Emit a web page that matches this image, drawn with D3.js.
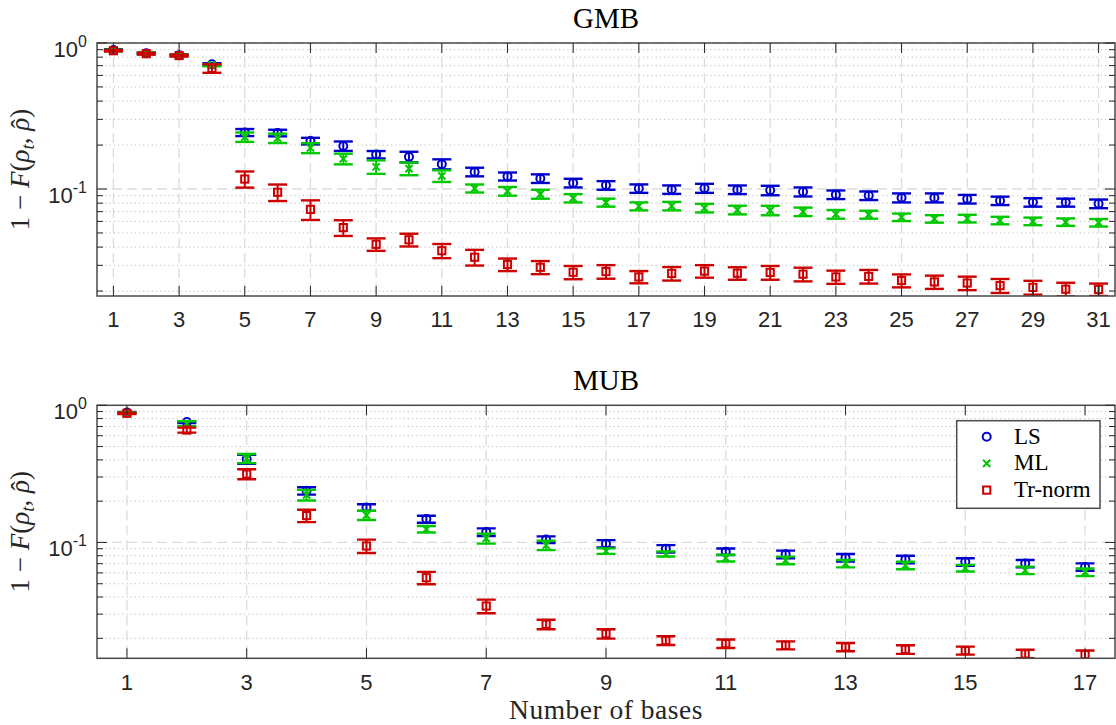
<!DOCTYPE html>
<html>
<head>
<meta charset="utf-8">
<script src="https://cdn.jsdelivr.net/npm/d3@7"></script>
<style>
  html, body { margin: 0; padding: 0; background: #ffffff; }
  svg { display: block; }
</style>
</head>
<body>
<svg id="chart" width="1116" height="725"></svg>
<script>
// ---------------- GMB: infidelity vs number of bases ----------------
const gmbBases = [1, 2, 3, 4, 5, 6, 7, 8, 9, 10, 11, 12, 13, 14, 15, 16,
                  17, 18, 19, 20, 21, 22, 23, 24, 25, 26, 27, 28, 29, 30, 31];
const gmbLS = [0.895, 0.850, 0.825, 0.715, 0.244, 0.242, 0.213, 0.197, 0.172, 0.166, 0.148,
               0.131, 0.122, 0.118, 0.110, 0.106, 0.1008, 0.0992, 0.1013, 0.0990, 0.0979,
               0.0957, 0.0915, 0.0901, 0.0871, 0.0871, 0.0853, 0.0831, 0.0811, 0.0808, 0.0793];
const gmbLSErr = [0.012, 0.010, 0.010, 0.012, 0.0135, 0.0126, 0.0111, 0.0146, 0.0100, 0.0139, 0.0117,
                  0.0089, 0.0077, 0.0080, 0.0075, 0.0072, 0.0067, 0.0066, 0.0072, 0.0067, 0.0073,
                  0.0068, 0.0062, 0.0061, 0.0062, 0.0062, 0.0058, 0.0055, 0.0054, 0.0051, 0.0054];
const gmbML = [0.890, 0.850, 0.825, 0.705, 0.227, 0.223, 0.191, 0.161, 0.142, 0.138, 0.123,
               0.101, 0.0966, 0.0923, 0.0866, 0.0808, 0.0762, 0.0765, 0.0741, 0.0719, 0.0714,
               0.0699, 0.0672, 0.0668, 0.0641, 0.0625, 0.0628, 0.0609, 0.0601, 0.0594, 0.0588];
const gmbMLErr = [0.010, 0.010, 0.010, 0.012, 0.0168, 0.0165, 0.0150, 0.0135, 0.0150, 0.0137, 0.0113,
                  0.0064, 0.0066, 0.0065, 0.0057, 0.0051, 0.0048, 0.0051, 0.0050, 0.0049, 0.0053,
                  0.0047, 0.0046, 0.0042, 0.0038, 0.0037, 0.0038, 0.0036, 0.0036, 0.0035, 0.0035];
const gmbTR = [0.885, 0.845, 0.820, 0.670, 0.117, 0.095, 0.0725, 0.0544, 0.0418, 0.0449, 0.0378,
               0.0341, 0.0304, 0.0291, 0.0269, 0.0272, 0.0250, 0.0264, 0.0274, 0.0265, 0.0268,
               0.0261, 0.0250, 0.0252, 0.0236, 0.0231, 0.0227, 0.0218, 0.0212, 0.0206, 0.0205];
const gmbTRErr = [0.010, 0.012, 0.012, 0.045, 0.0148, 0.0123, 0.0111, 0.0067, 0.0041, 0.0045, 0.0042,
                  0.0042, 0.0030, 0.0030, 0.0028, 0.0029, 0.0024, 0.0028, 0.0027, 0.0026, 0.0029,
                  0.0028, 0.0026, 0.0027, 0.0024, 0.0024, 0.0024, 0.0024, 0.0023, 0.0022, 0.0020];
const gmbTicks = [1, 3, 5, 7, 9, 11, 13, 15, 17, 19, 21, 23, 25, 27, 29, 31];

// ---------------- MUB: infidelity vs number of bases ----------------
const mubBases = [1, 2, 3, 4, 5, 6, 7, 8, 9, 10, 11, 12, 13, 14, 15, 16, 17];
const mubLS = [0.885, 0.755, 0.405, 0.238, 0.180, 0.148, 0.119, 0.105, 0.098, 0.0900, 0.0857,
               0.0820, 0.0774, 0.0752, 0.0722, 0.0701, 0.0663];
const mubLSErr = [0.010, 0.012, 0.030, 0.0147, 0.0100, 0.0087, 0.0076, 0.0058, 0.0060, 0.0056, 0.0047,
                  0.0052, 0.0049, 0.0048, 0.0045, 0.0043, 0.0041];
const mubML = [0.880, 0.735, 0.410, 0.222, 0.158, 0.125, 0.107, 0.0954, 0.0866, 0.0824, 0.0770,
               0.0741, 0.0701, 0.0681, 0.0650, 0.0627, 0.0607];
const mubMLErr = [0.010, 0.031, 0.031, 0.0197, 0.0124, 0.0069, 0.0090, 0.0075, 0.0040, 0.0035, 0.0043,
                  0.0047, 0.0043, 0.0043, 0.0036, 0.0039, 0.0039];
const mubTR = [0.875, 0.660, 0.315, 0.157, 0.0943, 0.0553, 0.0344, 0.0253, 0.0216, 0.0193, 0.0183,
               0.0178, 0.0173, 0.0166, 0.0163, 0.0154, 0.0152];
const mubTRErr = [0.010, 0.028, 0.0264, 0.0163, 0.0106, 0.0057, 0.0039, 0.0020, 0.0017, 0.0014, 0.0013,
                  0.0012, 0.0012, 0.0012, 0.0011, 0.0011, 0.0011];
const mubTicks = [1, 3, 5, 7, 9, 11, 13, 15, 17];

// Y axis decades shown with labels
const yTickExponents = [0, -1];
const seriesNames = ["LS", "ML", "Tr-norm"];

// ---------------- styling ----------------
const COLORS = { "LS": "#0000cd", "ML": "#00c800", "Tr-norm": "#cc0000" };
const MARKERS = { "LS": "circle", "ML": "cross", "Tr-norm": "square" };
const SERIF = "'Liberation Serif', 'Times New Roman', serif";
const SANS = "'Liberation Sans', Arial, Helvetica, sans-serif";
const AXIS_COLOR = "#262626";

const panels = [
  {
    id: "gmb", title: "GMB", bases: gmbBases, xTicks: gmbTicks,
    xDomain: [0.5, 31.5], yDomain: [0.0185, 1],
    box: { left: 97, right: 1115, top: 43, bottom: 296 },
    series: [
      { name: "LS", values: gmbLS, errors: gmbLSErr },
      { name: "ML", values: gmbML, errors: gmbMLErr },
      { name: "Tr-norm", values: gmbTR, errors: gmbTRErr }
    ]
  },
  {
    id: "mub", title: "MUB", bases: mubBases, xTicks: mubTicks,
    xDomain: [0.5, 17.5], yDomain: [0.0143, 1],
    box: { left: 97, right: 1115, top: 405.3, bottom: 658.3 },
    series: [
      { name: "LS", values: mubLS, errors: mubLSErr },
      { name: "ML", values: mubML, errors: mubMLErr },
      { name: "Tr-norm", values: mubTR, errors: mubTRErr }
    ],
    xLabel: "Number of bases",
    legend: { left: 956.7, top: 420.7, width: 143.3, height: 87.6 }
  }
];

const svg = d3.select("#chart");
svg.append("rect").attr("width", 1116).attr("height", 725).attr("fill", "#fff");

function drawMarker(g, kind, cx, cy, color) {
  if (kind === "circle") {
    g.append("circle").attr("cx", cx).attr("cy", cy).attr("r", 4)
      .attr("fill", "none").attr("stroke", color).attr("stroke-width", 2);
  } else if (kind === "square") {
    g.append("rect").attr("x", cx - 3.6).attr("y", cy - 3.6)
      .attr("width", 7.2).attr("height", 7.2)
      .attr("fill", "none").attr("stroke", color).attr("stroke-width", 2);
  } else {
    const s = 3.6;
    g.append("path")
      .attr("d", `M${cx - s},${cy - s}L${cx + s},${cy + s}M${cx - s},${cy + s}L${cx + s},${cy - s}`)
      .attr("fill", "none").attr("stroke", color).attr("stroke-width", 2);
  }
}

panels.forEach(p => {
  const b = p.box;
  const x = d3.scaleLinear().domain(p.xDomain).range([b.left, b.right]);
  const y = d3.scaleLog().domain(p.yDomain).range([b.bottom, b.top]);
  const g = svg.append("g").attr("class", "panel-" + p.id);

  // clip region for plotted data
  const clipId = "clip-" + p.id;
  svg.append("defs").append("clipPath").attr("id", clipId)
    .append("rect").attr("x", b.left).attr("y", b.top)
    .attr("width", b.right - b.left).attr("height", b.bottom - b.top);

  // log ticks: majors at decades, minors at 2..9
  const allY = y.ticks().filter(v => v >= p.yDomain[0] && v <= p.yDomain[1] * 1.0001);
  const isMajor = v => Math.abs(Math.log10(v) - Math.round(Math.log10(v))) < 1e-9;
  const minorY = allY.filter(v => !isMajor(v));
  const majorY = allY.filter(isMajor);

  // grid
  const grid = g.append("g").attr("class", "grid");
  grid.selectAll("line.minor-y").data(minorY).join("line")
    .attr("class", "minor-y")
    .attr("x1", b.left).attr("x2", b.right)
    .attr("y1", d => y(d)).attr("y2", d => y(d))
    .attr("stroke", "#bdbdbd").attr("stroke-width", 1)
    .attr("stroke-dasharray", "1.2,3");
  grid.selectAll("line.major-y").data(majorY).join("line")
    .attr("class", "major-y")
    .attr("x1", b.left).attr("x2", b.right)
    .attr("y1", d => y(d)).attr("y2", d => y(d))
    .attr("stroke", "#dcdcdc").attr("stroke-width", 1.3)
    .attr("stroke-dasharray", "10,5");
  grid.selectAll("line.major-x").data(p.xTicks).join("line")
    .attr("class", "major-x")
    .attr("x1", d => x(d)).attr("x2", d => x(d))
    .attr("y1", b.top).attr("y2", b.bottom)
    .attr("stroke", "#dcdcdc").attr("stroke-width", 1.3)
    .attr("stroke-dasharray", "10,5");

  // data: error bars + markers, series drawn in order
  const data = g.append("g").attr("clip-path", `url(#${clipId})`);
  p.series.forEach(s => {
    const color = COLORS[s.name];
    const sg = data.append("g").attr("class", "series");
    p.bases.forEach((n, i) => {
      const v = s.values[i], e = s.errors[i];
      const cx = x(n);
      const yHi = y(v + e), yLo = y(Math.max(v - e, 1e-4));
      sg.append("line").attr("x1", cx).attr("x2", cx).attr("y1", yHi).attr("y2", yLo)
        .attr("stroke", color).attr("stroke-width", 2);
      [yHi, yLo].forEach(yy => {
        sg.append("line").attr("x1", cx - 9.5).attr("x2", cx + 9.5).attr("y1", yy).attr("y2", yy)
          .attr("stroke", color).attr("stroke-width", 2.4);
      });
      drawMarker(sg, MARKERS[s.name], cx, y(v), color);
    });
  });

  // axes box
  g.append("rect").attr("x", b.left).attr("y", b.top)
    .attr("width", b.right - b.left).attr("height", b.bottom - b.top)
    .attr("fill", "none").attr("stroke", "#4a4a4a").attr("stroke-width", 1.5);

  // inward ticks on all four sides
  const ticks = g.append("g").attr("stroke", AXIS_COLOR).attr("stroke-width", 1);
  p.xTicks.forEach(t => {
    ticks.append("line").attr("x1", x(t)).attr("x2", x(t)).attr("y1", b.bottom).attr("y2", b.bottom - 10);
    ticks.append("line").attr("x1", x(t)).attr("x2", x(t)).attr("y1", b.top).attr("y2", b.top + 10);
  });
  allY.forEach(t => {
    const len = isMajor(t) ? 10 : 6;
    ticks.append("line").attr("x1", b.left).attr("x2", b.left + len).attr("y1", y(t)).attr("y2", y(t));
    ticks.append("line").attr("x1", b.right).attr("x2", b.right - len).attr("y1", y(t)).attr("y2", y(t));
  });

  // x tick labels
  g.append("g").selectAll("text").data(p.xTicks).join("text")
    .attr("x", d => x(d)).attr("y", b.bottom + 31.3)
    .attr("text-anchor", "middle")
    .attr("font-family", SANS).attr("font-size", 22).attr("fill", AXIS_COLOR)
    .text(d => d);

  // y tick labels as powers of ten
  yTickExponents.forEach(ex => {
    const t = g.append("text")
      .attr("x", b.left - 10).attr("y", y(Math.pow(10, ex)) + 13.5)
      .attr("text-anchor", "end")
      .attr("font-family", SANS).attr("font-size", 22).attr("fill", AXIS_COLOR);
    t.append("tspan").text("10");
    t.append("tspan").attr("font-size", 16).attr("dy", -10).text(ex === 0 ? "0" : String(ex));
  });

  // title
  g.append("text")
    .attr("x", (b.left + b.right) / 2).attr("y", b.top - 15)
    .attr("text-anchor", "middle")
    .attr("font-family", SERIF).attr("font-size", 29).attr("fill", "#000")
    .text(p.title);

  // y label: 1 - F(rho_t, rho-hat); the hat is set back over the second rho
  const yl = g.append("text")
    .attr("transform", `translate(28.5,${(b.top + b.bottom) / 2}) rotate(-90)`)
    .attr("text-anchor", "middle")
    .attr("font-family", SERIF).attr("font-size", 27).attr("fill", "#262626");
  yl.append("tspan").text("1 \u2212 ");
  yl.append("tspan").attr("font-style", "italic").text("F");
  yl.append("tspan").text("(");
  yl.append("tspan").attr("font-style", "italic").text("\u03C1");
  yl.append("tspan").attr("font-style", "italic").attr("font-size", 19).attr("dy", 5).text("t");
  yl.append("tspan").attr("dy", -5).text(", ");
  yl.append("tspan").attr("font-style", "italic").text("\u03C1");
  yl.append("tspan").attr("dx", -10.5).attr("dy", 1).text("\u02C6");
  yl.append("tspan").attr("dx", 1.5).attr("dy", -1).text(")");

  // x label
  if (p.xLabel) {
    g.append("text")
      .attr("x", (b.left + b.right) / 2).attr("y", b.bottom + 60.7)
      .attr("text-anchor", "middle")
      .attr("font-family", SERIF).attr("font-size", 27.5).attr("letter-spacing", 0.5)
      .attr("fill", "#262626")
      .text(p.xLabel);
  }

  // legend
  if (p.legend) {
    const L = p.legend;
    const lg = g.append("g").attr("class", "legend");
    lg.append("rect").attr("x", L.left).attr("y", L.top)
      .attr("width", L.width).attr("height", L.height)
      .attr("fill", "#fff").attr("stroke", "#4a4a4a").attr("stroke-width", 1.5);
    seriesNames.forEach((name, i) => {
      const cy = L.top + 16 + i * 26.7;
      drawMarker(lg, MARKERS[name], L.left + 30, cy, COLORS[name]);
      lg.append("text").attr("x", L.left + 57.3).attr("y", cy + 7)
        .attr("font-family", SERIF).attr("font-size", 23).attr("fill", "#000")
        .text(name);
    });
  }
});
</script>
</body>
</html>
